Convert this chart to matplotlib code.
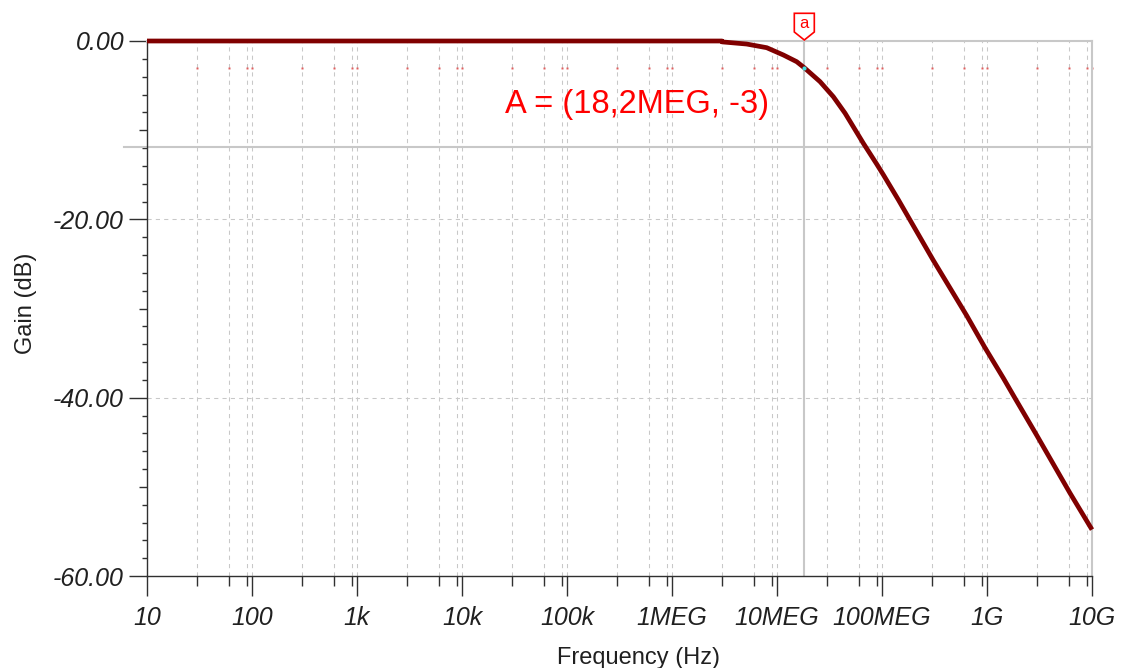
import matplotlib
matplotlib.use("Agg")
import matplotlib.pyplot as plt
import matplotlib.transforms as mtransforms
from matplotlib.patches import Polygon

# ---- data ----
freq_hz = [10, 1e3, 1e5, 2.99e6, 3.0e6, 5.14e6, 7.98e6, 11.5e6, 15.4e6, 18.2e6,
           25.7e6, 34.4e6, 44.5e6, 66.4e6, 89e6, 103e6, 143e6, 308e6,
           641e6, 957e6, 1.43e9, 1.85e9, 2.97e9, 6.17e9, 1e10]
gain_db = [0.0, 0.0, 0.0, 0.0, -0.1, -0.34, -0.75, -1.57, -2.32, -3.0,
           -4.56, -6.25, -8.1, -11.47, -13.8, -15.0, -17.8, -24.6,
           -30.8, -34.4, -37.8, -40.07, -44.2, -50.7, -54.8]

x_major = [1e1, 1e2, 1e3, 1e4, 1e5, 1e6, 1e7, 1e8, 1e9, 1e10]
x_labels = ["10", "100", "1k", "10k", "100k", "1MEG", "10MEG", "100MEG", "1G", "10G"]
y_major = [0, -20, -40, -60]
y_labels = ["0.00", "-20.00", "-40.00", "-60.00"]
y_mid = [-10, -30, -50]

cursor_f = 18.2e6
cursor_db = -3.0
hline_db = -11.85
annot_text = "A = (18,2MEG, -3)"

W, H = 1129, 668
fig = plt.figure(figsize=(W / 100, H / 100), dpi=100)
ax = fig.add_axes([147 / W, 1 - 576 / H, 945 / W, 535 / H])
ax.set_xscale("log")
ax.set_xlim(1e1, 1e10)
ax.set_ylim(-60, 0)

grid_c = "#c8c8c8"
# vertical grid lines at 3, 6, 9 and decades
vgrid = []
for d in x_major[:-1]:
    vgrid += [3 * d, 6 * d, 9 * d]
vgrid += x_major[1:-1]
for xv in vgrid:
    ax.axvline(xv, color=grid_c, lw=0.75, ls=(0, (4, 4)), zorder=1)
for yv in [-20, -40]:
    ax.axhline(yv, color=grid_c, lw=0.75, ls=(0, (4, 4)), zorder=1)

# small red marks at -3 dB on grid lines
ax.plot(vgrid + [1e10], [cursor_db] * (len(vgrid) + 1), ls="none", marker="s",
        ms=1.6, mec="none", mfc="#e06060", zorder=2, clip_on=False)

# cursor lines
ax.axvline(cursor_f, color=grid_c, lw=1.5, zorder=2)
ax.plot([10 ** ((124 - 147) / 105 + 1), 1e10], [hline_db, hline_db], color=grid_c,
        lw=1.5, zorder=2, clip_on=False)

# spines
for s in ["top", "right"]:
    ax.spines[s].set_color(grid_c)
    ax.spines[s].set_linewidth(1.5)
for s in ["left", "bottom"]:
    ax.spines[s].set_color("#303030")
    ax.spines[s].set_linewidth(1.0)

# curve
ax.plot(freq_hz, gain_db, color="#800000", lw=3.4, zorder=5, clip_on=False,
        solid_capstyle="butt", solid_joinstyle="round")
ax.plot([cursor_f], [cursor_db], ls="none", marker="o", ms=3, mec="none",
        mfc="#40e0e0", zorder=6)

# ticks
tick_font = dict(family="Liberation Sans", style="italic", size=18)
ax.set_xticks(x_major)
ax.set_xticklabels(x_labels, fontdict=tick_font, color="#202020")
minors = []
for d in x_major[:-1]:
    minors += [3 * d, 6 * d, 9 * d]
ax.set_xticks(minors, minor=True)
ax.xaxis.set_minor_formatter(matplotlib.ticker.NullFormatter())
ax.tick_params(axis="x", which="major", length=14.4, width=1.0, color="#303030",
               pad=7.5, direction="out")
ax.tick_params(axis="x", which="minor", length=7.2, width=1.0, color="#303030",
               direction="out")

yt = [0, -10, -20, -30, -40, -50, -60]
ax.set_yticks(yt)
ax.set_yticklabels([("%.2f" % v) if v in y_major else "" for v in yt],
                   fontdict=tick_font, color="#202020")
ax.set_yticks([v for v in range(-58, 0, 2) if v % 10 != 0], minor=True)
ax.yaxis.set_minor_formatter(matplotlib.ticker.NullFormatter())
ax.tick_params(axis="y", which="major", length=13, width=1.0, color="#303030",
               pad=3.5, direction="out")
ax.tick_params(axis="y", which="minor", length=3.3, width=1.0, color="#303030",
               direction="out")
for t, v in zip(ax.yaxis.get_major_ticks(), yt):
    if v in y_mid:
        t.tick1line.set_markersize(5.8)

# axis labels
lab_font = dict(family="Liberation Sans", size=17, color="#202020")
fig.text(639 / W, (H - 664) / H, "Frequency (Hz)", ha="center", va="baseline", **lab_font)
fig.text(26 / W, 1 - 303 / H, "Gain (dB)", ha="center", va="center", rotation=90,
         **lab_font)

# annotation text
fig.text(505 / W, (H - 112.7) / H, annot_text, ha="left", va="baseline",
         family="Liberation Sans", size=23.5, color="#ff0000")

# cursor flag "a"
trans = fig.dpi_scale_trans + mtransforms.ScaledTranslation(cursor_f, 0, ax.transData)
verts = [(-0.10, 0.09), (-0.10, 0.277), (0.10, 0.277), (0.10, 0.09), (0.0, 0.01)]
flag = Polygon(verts, closed=True, fc="white", ec="#ff0000", lw=1.2,
               transform=trans, clip_on=False, zorder=10)
fig.add_artist(flag)
fig.text(0, 0.175, "a", transform=trans, ha="center", va="center",
         family="Liberation Sans", size=12, color="#ff0000", zorder=11)

fig.savefig("out.png", dpi=100)
